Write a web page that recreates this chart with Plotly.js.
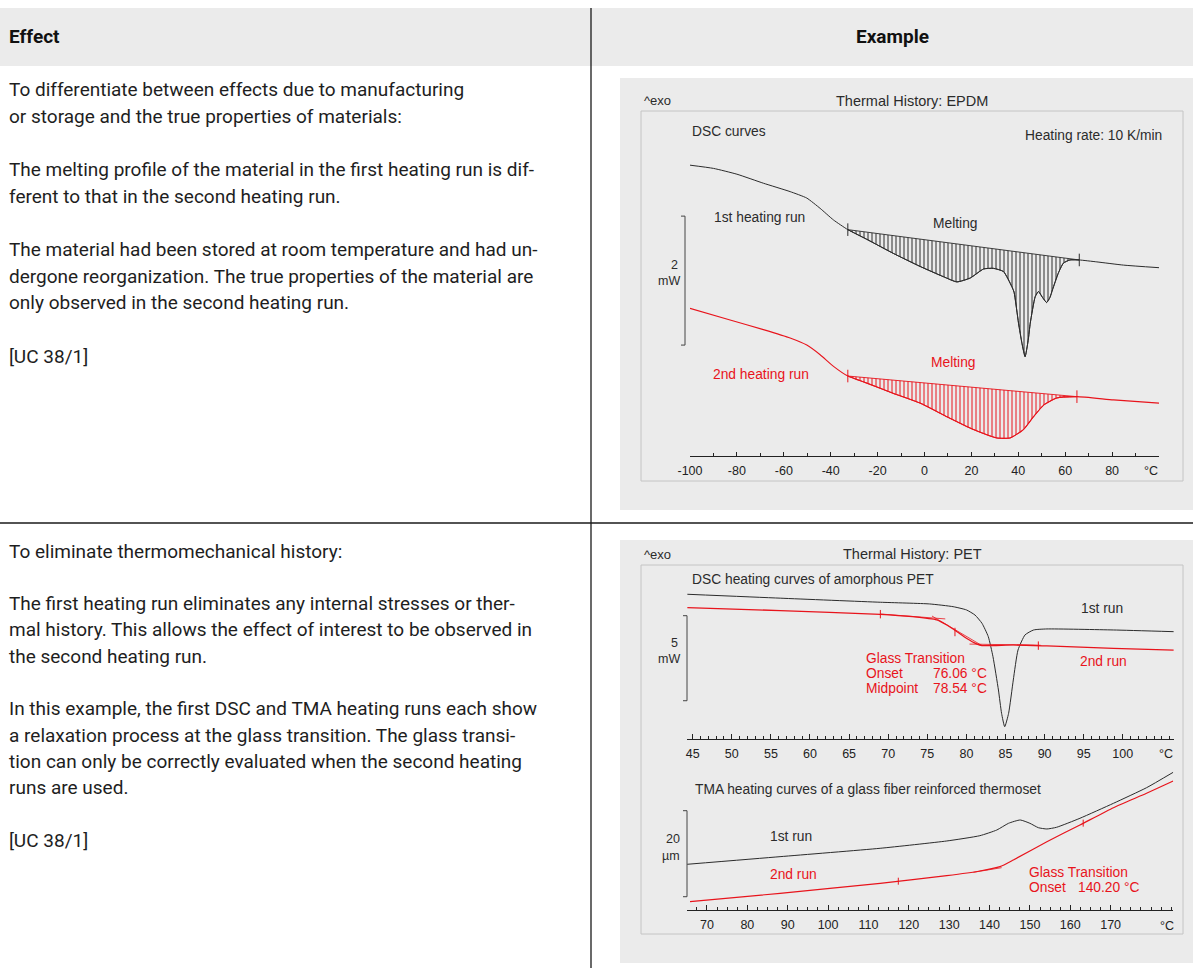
<!DOCTYPE html>
<html>
<head>
<meta charset="utf-8">
<script src="https://cdn.plot.ly/plotly-3.0.1.min.js"></script>
<style>html,body{margin:0;padding:0;background:#fff;}#chart{width:1193px;height:968px;}</style>
</head>
<body>
<div id="chart"></div>
<script>
// ---------------- DATA ----------------
// Panel 1: EPDM DSC (temperature °C, heat flow mW, arbitrary offset)
const epdmT1  = [-100,-90,-80,-68.7,-57.3,-50.2,-44.5,-38.8,-32.7,-24.6,-13.2,-1.9,8.1,13.8,19.5,25.2,29.4,33.7,37.2,38.2,40.1,41.6,42.9,44.2,45.1,47.2,48.6,50.3,52.1,53.5,54.6,57.0,59.2,62.0,66.0,73.5,84.9,100];
const epdmHF1 = [4.57,4.52,4.43,4.29,4.16,4.06,3.90,3.72,3.57,3.42,3.20,3.00,2.84,2.76,2.82,2.96,2.97,2.92,2.69,2.60,2.12,1.80,1.60,1.85,2.12,2.53,2.61,2.52,2.44,2.52,2.64,2.89,3.05,3.10,3.10,3.07,3.02,2.98];
const epdmBase1T  = [-32.7, 66.0];
const epdmBase1HF = [3.57, 3.10];
const epdmT2  = [-100,-82.9,-68.7,-57.3,-50.2,-44.5,-38.8,-32.7,-24.6,-13.2,-1.9,9.5,20.9,30.8,36.5,42.2,46.5,50.8,56.4,65.0,80.6,100];
const epdmHF2 = [2.35,2.17,2.02,1.89,1.78,1.63,1.45,1.30,1.19,1.03,0.88,0.67,0.47,0.34,0.34,0.47,0.67,0.85,0.96,0.98,0.93,0.88];
const epdmBase2T  = [-32.7, 65.0];
const epdmBase2HF = [1.30, 0.98];
const epdmScale = [1.78, 3.78];          // 2 mW scale bar
const epdmTicks = [-100,-80,-60,-40,-20,0,20,40,60,80];

// Panel 2a: PET DSC
const petT1  = [44.3,56.2,69.0,75.3,78.3,80.0,81.1,82.0,82.8,83.4,84.1,84.5,84.9,85.4,86.0,86.6,87.5,88.6,90.3,98.8,106.5];
const petHF1 = [8.57,8.34,8.10,8.00,7.84,7.65,7.35,6.86,6.08,4.90,2.94,1.57,0.78,1.57,3.53,5.29,6.18,6.47,6.53,6.47,6.37];
const petT2  = [44.3,56.2,69.0,73.1,76.2,77.5,78.8,80.0,81.3,82.0,86.0,90.3,98.8,106.5];
const petHF2 = [7.78,7.61,7.39,7.25,7.06,6.76,6.37,5.98,5.65,5.55,5.59,5.53,5.39,5.29];
const petTanPreT = [69.0, 77.3], petTanPreHF = [7.41, 7.12];
const petTanInfT = [75.6, 82.0], petTanInfHF = [7.29, 5.55];
const petTanPostT = [80.4, 89.5], petTanPostHF = [5.64, 5.57];
const petMarkT = [69.0, 78.54, 89.2], petMarkHF = [7.40, 6.35, 5.55];
const petScale = [2.31, 7.31];           // 5 mW scale bar
const petTicks = [45,50,55,60,65,70,75,80,85,90,95,100];

// Panel 2b: TMA (temperature °C, length µm)
const tmaT1 = [65.1,88.1,112.9,129.4,137.6,141.8,144.7,147.6,150.0,152.1,154.2,156.6,162.4,170.7,178.9,185.5];
const tmaL1 = [10.63,12.40,14.35,16.05,17.28,18.60,20.16,20.93,20.16,19.14,18.84,19.23,21.33,24.81,28.44,32.02];
const tmaT2 = [65.8,88.1,112.9,129.4,137.6,142.6,145.9,154.2,162.4,170.7,178.9,185.5];
const tmaL2 = [1.93,3.88,6.21,7.98,9.07,10.07,11.63,15.88,19.77,23.79,27.14,30.0];
const tmaTanT = [136.0, 143.0], tmaTanL = [8.77, 9.84];
const tmaMarkT = [117.4, 163.2], tmaMarkL = [6.70, 20.2];
const tmaScale = [3.09, 23.09];          // 20 µm scale bar
const tmaTicks = [70,80,90,100,110,120,130,140,150,160,170];

// Table text
const headerLeft = 'Effect', headerRight = 'Example';
const row1Lines = [
 'To differentiate between effects due to manufacturing',
 'or storage and the true properties of materials:',
 null,
 'The melting profile of the material in the first heating run is dif-',
 'ferent to that in the second heating run.',
 null,
 'The material had been stored at room temperature and had un-',
 'dergone reorganization. The true properties of the material are',
 'only observed in the second heating run.',
 null,
 '[UC 38/1]'
];
const row2Lines = [
 'To eliminate thermomechanical history:',
 null,
 'The first heating run eliminates any internal stresses or ther-',
 'mal history. This allows the effect of interest to be observed in',
 'the second heating run.',
 null,
 'In this example, the first DSC and TMA heating runs each show',
 'a relaxation process at the glass transition. The glass transi-',
 'tion can only be correctly evaluated when the second heating',
 'runs are used.',
 null,
 '[UC 38/1]'
];

// ---------------- LAYOUT HELPERS ----------------
const W = 1193, H = 968;
const px = x => x / W;
const py = y => 1 - y / H;
const xd = (a, b) => [a / W, b / W];
const yd = (top, bottom) => [1 - bottom / H, 1 - top / H];
const BLACK = '#2b2b2b', RED = '#e8141c';
const CF = 'Liberation Sans, Arial, sans-serif';
const TF = 'Roboto, Lato, sans-serif';

function seg(xs, ys, lo, hi) {
  const ox = [], oy = [];
  xs.forEach((v, i) => { if (v >= lo - 1e-9 && v <= hi + 1e-9) { ox.push(v); oy.push(ys[i]); } });
  return [ox, oy];
}

const traces = [];
function curve(x, y, xa, ya, color, w, extra) {
  traces.push(Object.assign({type:'scatter', mode:'lines', x:x, y:y, xaxis:xa, yaxis:ya,
    line:{color:color, width:w, shape:'spline', smoothing:0.5}, hoverinfo:'skip'}, extra || {}));
}
function hatch(bx, by, cx, cy, xa, ya, color) {
  const s = seg(cx, cy, bx[0], bx[bx.length-1]);
  traces.push({type:'scatter', mode:'lines', x:bx, y:by, xaxis:xa, yaxis:ya,
    line:{color:color, width:0.9}, hoverinfo:'skip'});
  traces.push({type:'scatter', mode:'lines', x:s[0], y:s[1], xaxis:xa, yaxis:ya,
    line:{color:color, width:1, shape:'spline', smoothing:0.5}, fill:'tonexty',
    fillcolor:color, fillpattern:{shape:'|', size:4, solidity:0.25, fgcolor:color, bgcolor:'rgba(0,0,0,0)'},
    hoverinfo:'skip'});
  traces.push({type:'scatter', mode:'markers', x:bx, y:by, xaxis:xa, yaxis:ya,
    marker:{symbol:'line-ns-open', size:9, color:color, line:{color:color, width:1}}, hoverinfo:'skip'});
}

// EPDM
hatch(epdmBase1T, epdmBase1HF, epdmT1, epdmHF1, 'x', 'y', BLACK);
curve(epdmT1, epdmHF1, 'x', 'y', BLACK, 1);
hatch(epdmBase2T, epdmBase2HF, epdmT2, epdmHF2, 'x', 'y', RED);
curve(epdmT2, epdmHF2, 'x', 'y', RED, 1.1);

// PET
curve(petT1, petHF1, 'x2', 'y2', BLACK, 1);
curve(petT2, petHF2, 'x2', 'y2', RED, 1.3);
[[petTanPreT, petTanPreHF], [petTanInfT, petTanInfHF], [petTanPostT, petTanPostHF]].forEach(p => {
  traces.push({type:'scatter', mode:'lines', x:p[0], y:p[1], xaxis:'x2', yaxis:'y2',
    line:{color:RED, width:0.8}, hoverinfo:'skip'});
});
traces.push({type:'scatter', mode:'markers', x:petMarkT, y:petMarkHF, xaxis:'x2', yaxis:'y2',
  marker:{symbol:'line-ns-open', size:6, color:RED, line:{color:RED, width:1}}, hoverinfo:'skip'});

// TMA
curve(tmaT1, tmaL1, 'x3', 'y3', BLACK, 1);
curve(tmaT2, tmaL2, 'x3', 'y3', RED, 1.2);
traces.push({type:'scatter', mode:'lines', x:tmaTanT, y:tmaTanL, xaxis:'x3', yaxis:'y3',
  line:{color:RED, width:0.8}, hoverinfo:'skip'});
traces.push({type:'scatter', mode:'markers', x:tmaMarkT, y:tmaMarkL, xaxis:'x3', yaxis:'y3',
  marker:{symbol:'line-ns-open', size:5, color:RED, line:{color:RED, width:1}}, hoverinfo:'skip'});

// ---------------- AXES ----------------
function xaxisDef(dom, range, ticks, minorDt, anchor) {
  return {domain:dom, range:range, anchor:anchor, fixedrange:true,
    showline:true, linecolor:'#222', linewidth:1, mirror:false,
    showgrid:false, zeroline:false,
    tickmode:'array', tickvals:ticks, ticktext:ticks.map(v => String(v)),
    ticks:'inside', ticklen:4, tickwidth:1, tickcolor:'#222', ticklabelstandoff:3,
    tickfont:{family:CF, size:12.5, color:'#222'},
    minor:{dtick:minorDt, tick0:ticks[0], ticks:'inside', ticklen:3, tickwidth:1, tickcolor:'#222', showgrid:false}};
}
function yaxisDef(dom, range, anchor) {
  return {domain:dom, range:range, anchor:anchor, visible:false, fixedrange:true, showgrid:false, zeroline:false};
}

// ---------------- SHAPES ----------------
const shapes = [];
function rect(x0, y0, x1, y1, fill, lineColor, lw) {
  shapes.push({type:'rect', xref:'paper', yref:'paper', x0:px(x0), x1:px(x1), y0:py(y0), y1:py(y1),
    fillcolor:fill, line:{color:lineColor || 'rgba(0,0,0,0)', width:lw || 0}, layer:'below'});
}
function pline(x0, y0, x1, y1, color, w) {
  shapes.push({type:'line', xref:'paper', yref:'paper', x0:px(x0), x1:px(x1), y0:py(y0), y1:py(y1),
    line:{color:color, width:w}, layer:'above'});
}
function bracket(xPix, yref, vals) {
  shapes.push({type:'line', xref:'paper', yref:yref, x0:px(xPix), x1:px(xPix), y0:vals[0], y1:vals[1], line:{color:'#444', width:1}});
  shapes.push({type:'line', xref:'paper', yref:yref, x0:px(xPix-4), x1:px(xPix), y0:vals[0], y1:vals[0], line:{color:'#444', width:1}});
  shapes.push({type:'line', xref:'paper', yref:yref, x0:px(xPix-4), x1:px(xPix), y0:vals[1], y1:vals[1], line:{color:'#444', width:1}});
}

// table
rect(0, 8, W, 66, '#ebebeb');
pline(591, 8, 591, H, '#1a1a1a', 1.3);
pline(0, 523, W, 523, '#1a1a1a', 1.3);
// example panels
rect(620, 78, W, 510, '#ebebeb');
rect(641, 111, 1183, 481, 'rgba(0,0,0,0)', '#c4c4c4', 1);
rect(620, 540, W, 963, '#ebebeb');
rect(641, 565, 1183, 934, 'rgba(0,0,0,0)', '#c4c4c4', 1);
bracket(685, 'y', epdmScale);
bracket(687, 'y2', petScale);
bracket(687, 'y3', tmaScale);

// ---------------- ANNOTATIONS ----------------
const ann = [];
function txt(x, y, text, o) {
  o = o || {};
  ann.push({xref:'paper', yref:'paper', x:px(x), y:py(y), text:text, showarrow:false,
    xanchor:o.anchor || 'left', yanchor:'middle', borderpad:0,
    font:{family:o.family || CF, size:o.size || 13.8, color:o.color || '#2b2b2b', weight:o.weight || 400}});
}
// headers
txt(8, 37, '<b>' + headerLeft + '</b>', {family:TF, size:19, color:'#111'});
txt(893, 37, '<b>' + headerRight + '</b>', {family:TF, size:19, color:'#111', anchor:'center'});
row1Lines.forEach((s, i) => { if (s) txt(8, 90 + i * 26.6, s, {family:TF, size:19, color:'#1e1e1e'}); });
row2Lines.forEach((s, i) => { if (s) txt(8, 551 + i * 26.3, s, {family:TF, size:19, color:'#1e1e1e'}); });

// panel 1 texts
txt(643, 101, '^exo', {size:13});
txt(912, 101, 'Thermal History: EPDM', {size:14.5, anchor:'center'});
txt(691, 131, 'DSC curves', {size:13.8});
txt(1163, 136, 'Heating rate: 10 K/min', {size:13.8, anchor:'right'});
txt(713, 217, '1st heating run', {size:13.8});
txt(955, 223, 'Melting', {size:13.8, anchor:'center'});
txt(953, 362, 'Melting', {size:13.8, anchor:'center', color:RED});
txt(712, 374, '2nd heating run', {size:13.8, color:RED});
txt(679, 265, '2', {size:12.5, anchor:'right'});
txt(681, 281, 'mW', {size:12.5, anchor:'right'});
txt(1151, 471, '°C', {size:12.5, color:'#222', anchor:'center'});

// panel 2 texts
txt(643, 554, '^exo', {size:13});
txt(912, 554, 'Thermal History: PET', {size:14.5, anchor:'center'});
txt(691, 579, 'DSC heating curves of amorphous PET', {size:13.8});
txt(1080, 608, '1st run', {size:13.8});
txt(1079, 661, '2nd run', {size:13.8, color:RED});
txt(865, 658, 'Glass Transition', {size:13.8, color:RED});
txt(865, 673, 'Onset', {size:13.8, color:RED});
txt(932, 673, '76.06 °C', {size:13.8, color:RED});
txt(865, 688, 'Midpoint', {size:13.8, color:RED});
txt(932, 688, '78.54 °C', {size:13.8, color:RED});
txt(679, 643, '5', {size:12.5, anchor:'right'});
txt(681, 659, 'mW', {size:12.5, anchor:'right'});
txt(1166, 754, '°C', {size:12.5, color:'#222', anchor:'center'});

txt(694, 789, 'TMA heating curves of a glass fiber reinforced thermoset', {size:13.8});
txt(769, 836, '1st run', {size:13.8});
txt(769, 874, '2nd run', {size:13.8, color:RED});
txt(1028, 872, 'Glass Transition', {size:13.8, color:RED});
txt(1028, 887, 'Onset', {size:13.8, color:RED});
txt(1077, 887, '140.20 °C', {size:13.8, color:RED});
txt(681, 839, '20', {size:12.5, anchor:'right'});
txt(681, 856, 'µm', {size:12.5, anchor:'right'});
txt(1167, 926, '°C', {size:12.5, color:'#222', anchor:'center'});

const layout = {
  width:W, height:H, margin:{l:0, r:0, t:0, b:0, pad:0},
  paper_bgcolor:'#ffffff', plot_bgcolor:'rgba(0,0,0,0)', showlegend:false,
  xaxis:  xaxisDef(xd(690, 1159), [-100, 100], epdmTicks, 10, 'y'),
  yaxis:  yaxisDef(yd(111, 456), [0.06, 5.41], 'x'),
  xaxis2: xaxisDef(xd(687.2, 1174.4), [44.3, 106.6], petTicks, 1, 'y2'),
  yaxis2: yaxisDef(yd(565, 739), [0.06, 10.29], 'x2'),
  xaxis3: xaxisDef(xd(686.8, 1173.2), [65, 185.5], tmaTicks, 2.5, 'y3'),
  yaxis3: yaxisDef(yd(768, 910), [0, 33.02], 'x3'),
  shapes:shapes, annotations:ann
};
layout.xaxis2.ticklen = 5; layout.xaxis2.minor.ticklen = 3;
layout.xaxis3.ticklen = 5;

Plotly.newPlot('chart', traces, layout, {staticPlot:true, displayModeBar:false});
</script>
</body>
</html>
